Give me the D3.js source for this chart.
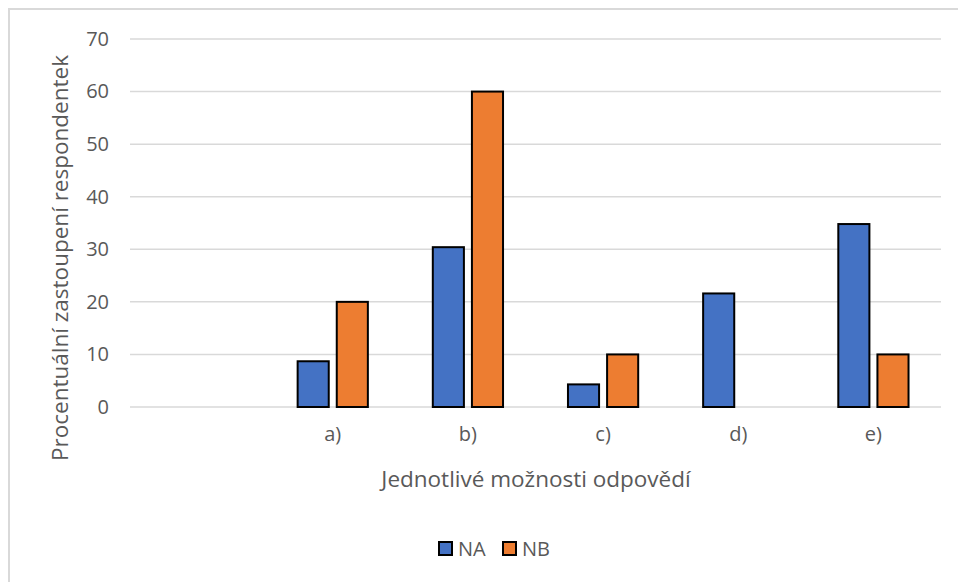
<!DOCTYPE html>
<html>
<head>
<meta charset="utf-8">
<script src="https://cdn.jsdelivr.net/npm/d3@7"></script>
<style>
  body { margin: 0; background: #fff; }
  text { font-family: "Open Sans", "Noto Sans", sans-serif; fill: #595959; }
</style>
</head>
<body>
<div id="chart"></div>
<script>
// data
var categories = ["", "a)", "b)", "c)", "d)", "e)"]
var seriesNames = ["NA", "NB"]
var valuesNA = [null, 8.7, 30.4, 4.3, 21.6, 34.8]
var valuesNB = [null, 20, 60, 10, 0, 10]
var yTicks = [0, 10, 20, 30, 40, 50, 60, 70]
var colors = ["#4472c4", "#ed7d31"]

var width = 958,
    height = 582

var svg = d3.select("#chart")
  .append("svg")
    .attr("width", width)
    .attr("height", height)

// chart frame
svg.append("rect")
  .attr("x", 9).attr("y", 9)
  .attr("width", 960).attr("height", 580)
  .attr("fill", "none")
  .attr("stroke", "#d9d9d9")
  .attr("stroke-width", 2)

var plot = {left: 130, right: 941, top: 39, bottom: 407}

var x = d3.scaleBand()
  .domain(categories.map(function(d, i) { return i }))
  .range([plot.left, plot.right])

var xInner = d3.scaleBand()
  .domain(seriesNames)
  .range([0, x.bandwidth()])
  .paddingInner(0.205)
  .paddingOuter(0.83)

var y = d3.scaleLinear()
  .domain([0, 70])
  .range([plot.bottom, plot.top])

// gridlines
svg.append("g")
  .selectAll("line")
  .data(yTicks)
  .enter()
  .append("line")
    .attr("x1", plot.left)
    .attr("x2", plot.right)
    .attr("y1", function(d) { return y(d) })
    .attr("y2", function(d) { return y(d) })
    .attr("stroke", "#d9d9d9")
    .attr("stroke-width", 1.5)

// y tick labels
var yAxis = svg.append("g")
  .attr("transform", "translate(" + (plot.left - 21) + ",0)")
  .call(d3.axisLeft(y).tickValues(yTicks).tickSize(0).tickPadding(0))
yAxis.select(".domain").remove()
yAxis.selectAll("text")
  .style("font-size", "20px")
  .attr("fill", "#595959")

// x tick labels
var xAxis = svg.append("g")
  .attr("transform", "translate(0," + plot.bottom + ")")
  .call(d3.axisBottom(x).tickFormat(function(i) { return categories[i] }).tickSize(0).tickPadding(20))
xAxis.select(".domain").remove()
xAxis.selectAll("text")
  .style("font-size", "20px")
  .attr("fill", "#595959")

// bars
var series = [valuesNA, valuesNB]
seriesNames.forEach(function(name, s) {
  svg.append("g")
    .selectAll("rect")
    .data(series[s].map(function(v, i) { return {i: i, v: v} }).filter(function(d) { return d.v !== null && d.v > 0 }))
    .enter()
    .append("rect")
      .attr("x", function(d) { return x(d.i) + xInner(name) })
      .attr("width", xInner.bandwidth())
      .attr("y", function(d) { return y(d.v) })
      .attr("height", function(d) { return y(0) - y(d.v) })
      .attr("fill", colors[s])
      .attr("stroke", "#000")
      .attr("stroke-width", 2)
})

// axis titles
svg.append("text")
  .attr("x", 536)
  .attr("y", 487)
  .attr("text-anchor", "middle")
  .style("font-size", "22.5px")
  .text("Jednotlivé možnosti odpovědí")

svg.append("text")
  .attr("transform", "translate(68,258) rotate(-90)")
  .attr("text-anchor", "middle")
  .style("font-size", "22.5px")
  .text("Procentuální zastoupení respondentek")

// legend
var legend = svg.append("g")
  .selectAll("g")
  .data(seriesNames)
  .enter()
  .append("g")
    .attr("transform", function(d, i) { return "translate(" + (439 + i * 64) + ",542)" })
legend.append("rect")
  .attr("width", 13).attr("height", 13)
  .attr("fill", function(d, i) { return colors[i] })
  .attr("stroke", "#000")
  .attr("stroke-width", 2)
legend.append("text")
  .attr("x", 19)
  .attr("y", 14)
  .style("font-size", "20px")
  .text(function(d) { return d })
</script>
</body>
</html>
